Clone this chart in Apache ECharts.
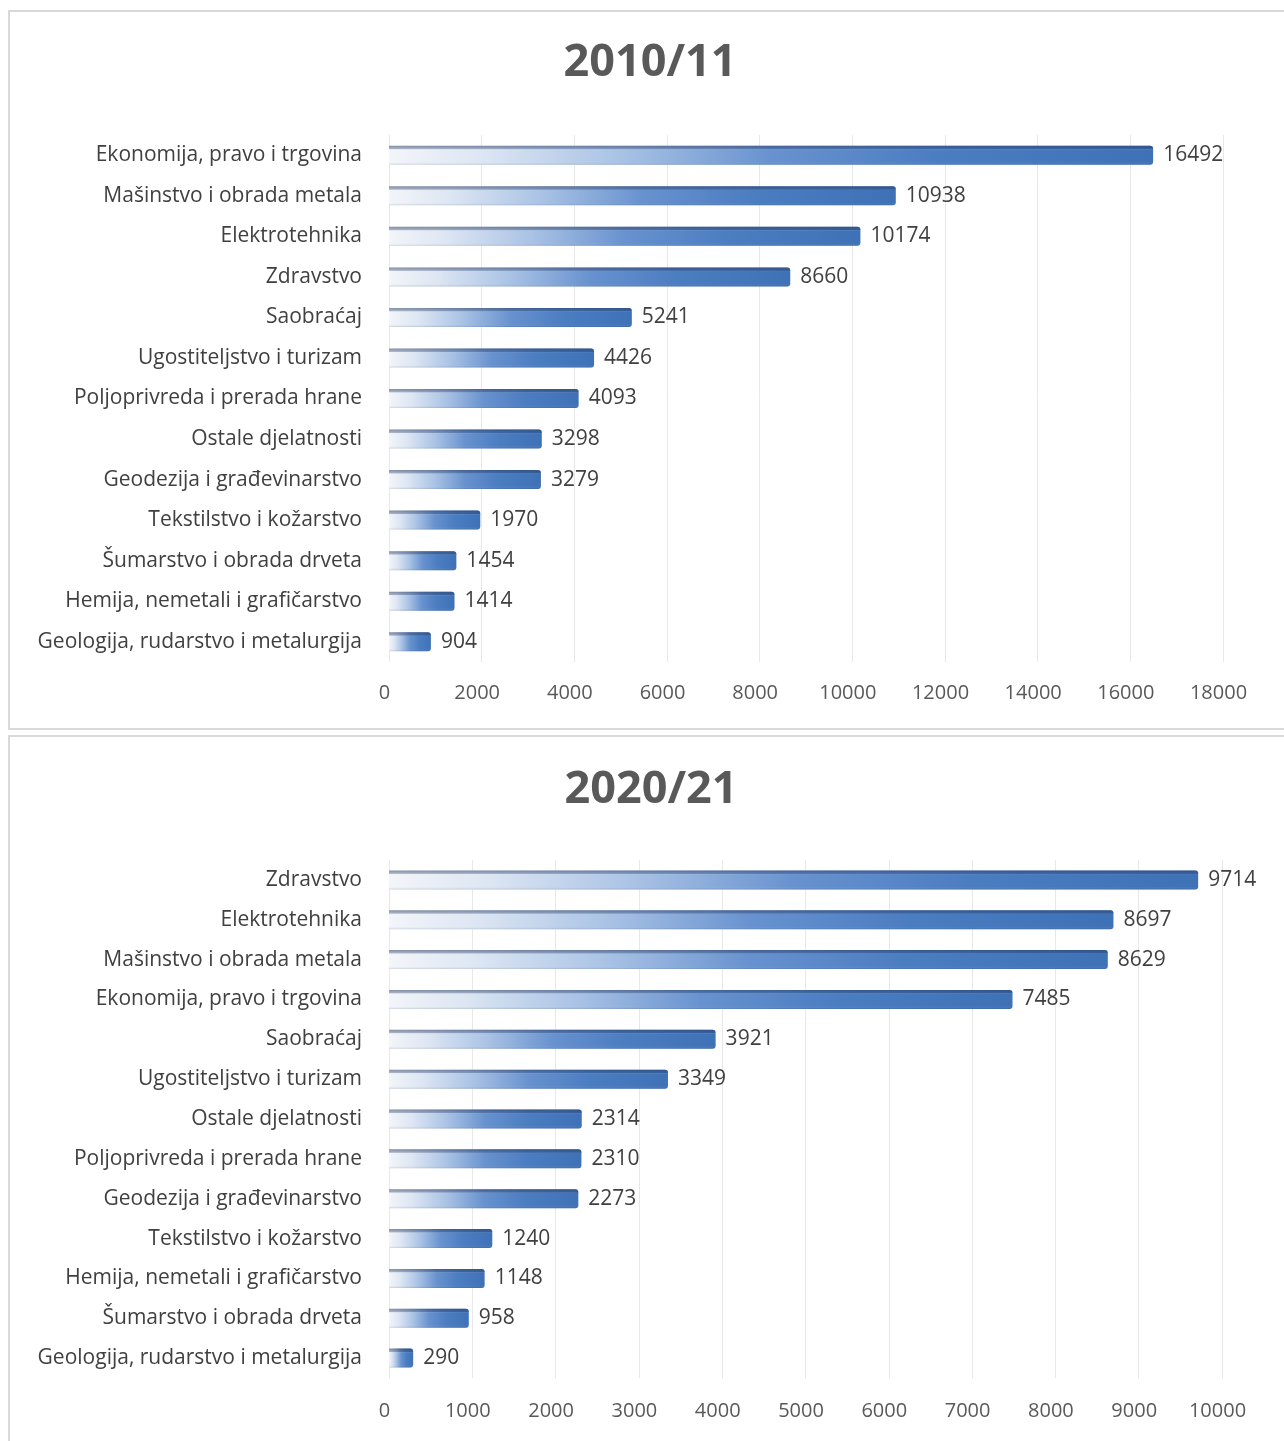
<!DOCTYPE html>
<html>
<head>
<meta charset="utf-8">
<script src="https://cdn.jsdelivr.net/npm/echarts@6/dist/echarts.min.js"></script>
<style>
  html, body { margin: 0; padding: 0; background: #fff; }
  #chart { width: 1284px; height: 1441px; }
</style>
</head>
<body>
<div id="chart"></div>
<script>
// ---- Data ----
const title1 = '2010/11';
const categories1 = ['Ekonomija, pravo i trgovina','Mašinstvo i obrada metala','Elektrotehnika','Zdravstvo','Saobraćaj','Ugostiteljstvo i turizam','Poljoprivreda i prerada hrane','Ostale djelatnosti','Geodezija i građevinarstvo','Tekstilstvo i kožarstvo','Šumarstvo i obrada drveta','Hemija, nemetali i grafičarstvo','Geologija, rudarstvo i metalurgija'];
const values1 = [16492,10938,10174,8660,5241,4426,4093,3298,3279,1970,1454,1414,904];
const axisMax1 = 18000, axisStep1 = 2000;

const title2 = '2020/21';
const categories2 = ['Zdravstvo','Elektrotehnika','Mašinstvo i obrada metala','Ekonomija, pravo i trgovina','Saobraćaj','Ugostiteljstvo i turizam','Ostale djelatnosti','Poljoprivreda i prerada hrane','Geodezija i građevinarstvo','Tekstilstvo i kožarstvo','Hemija, nemetali i grafičarstvo','Šumarstvo i obrada drveta','Geologija, rudarstvo i metalurgija'];
const values2 = [9714,8697,8629,7485,3921,3349,2314,2310,2273,1240,1148,958,290];
const axisMax2 = 10000, axisStep2 = 1000;

// ---- Styles ----
const FONT = '"Open Sans", "Noto Sans", sans-serif';
const chart = echarts.init(document.getElementById('chart'), null, { renderer: 'canvas' });

const bodyGradient = new echarts.graphic.LinearGradient(0, 0, 1, 0, [
  { offset: 0, color: '#f3f5f9' },
  { offset: 0.12, color: '#dde6f3' },
  { offset: 0.3, color: '#aac3e5' },
  { offset: 0.5, color: '#6892cf' },
  { offset: 0.72, color: '#4b7dc1' },
  { offset: 1, color: '#3f71b7' }
]);
const shadeGradient = new echarts.graphic.LinearGradient(0, 0, 0, 1, [
  { offset: 0, color: 'rgba(40,60,100,0.55)' },
  { offset: 0.16, color: 'rgba(40,60,100,0.35)' },
  { offset: 0.22, color: 'rgba(255,255,255,0)' },
  { offset: 0.85, color: 'rgba(255,255,255,0)' },
  { offset: 1, color: 'rgba(30,50,90,0.18)' }
]);

function xAxisFor(gi, max, step, margin) {
  return {
    gridIndex: gi, type: 'value', min: 0, max: max, interval: step,
    axisLine: { show: false }, axisTick: { show: false },
    splitLine: { show: true, lineStyle: { color: '#e8e8e8', width: 1 } },
    axisLabel: { color: '#595959', fontSize: 20, fontFamily: FONT, margin: margin, padding: [0, 9, 0, 0],
                 formatter: function (v) { return String(v); } }
  };
}
function yAxisFor(gi, cats) {
  return {
    gridIndex: gi, type: 'category', data: cats, inverse: true,
    axisLine: { show: false }, axisTick: { show: false },
    axisLabel: { color: '#404040', fontSize: 21, fontFamily: FONT, margin: 27 }
  };
}
function seriesFor(idx, vals) {
  return [
    {
      type: 'bar', xAxisIndex: idx, yAxisIndex: idx, data: vals, barWidth: 19,
      itemStyle: { color: bodyGradient, borderRadius: [0, 3, 3, 0] },
      silent: true
    },
    {
      type: 'bar', xAxisIndex: idx, yAxisIndex: idx, data: vals, barWidth: 19, barGap: '-100%',
      itemStyle: { color: shadeGradient, borderRadius: [0, 3, 3, 0] },
      label: { show: true, position: 'right', distance: 10, color: '#404040', fontSize: 21, fontFamily: FONT },
      silent: true
    }
  ];
}

const option = {
  animation: false,
  graphic: [
    { type: 'rect', shape: { x: 9, y: 11, width: 1290, height: 718 }, style: { fill: 'none', stroke: '#d9d9d9', lineWidth: 2 } },
    { type: 'rect', shape: { x: 9, y: 736, width: 1290, height: 720 }, style: { fill: 'none', stroke: '#d9d9d9', lineWidth: 2 } },
    { type: 'text', x: 650, y: 63, style: { text: title1, fill: '#595959', font: 'bold 45px ' + FONT, textAlign: 'center', textVerticalAlign: 'middle' } },
    { type: 'text', x: 651, y: 790, style: { text: title2, fill: '#595959', font: 'bold 45px ' + FONT, textAlign: 'center', textVerticalAlign: 'middle' } }
  ],
  grid: [
    { left: 389, width: 834, top: 135, height: 527 },
    { left: 389, width: 833, top: 860, height: 518 }
  ],
  xAxis: [xAxisFor(0, axisMax1, axisStep1, 21), xAxisFor(1, axisMax2, axisStep2, 23)],
  yAxis: [yAxisFor(0, categories1), yAxisFor(1, categories2)],
  series: [].concat(seriesFor(0, values1), seriesFor(1, values2))
};
chart.setOption(option);
</script>
</body>
</html>
